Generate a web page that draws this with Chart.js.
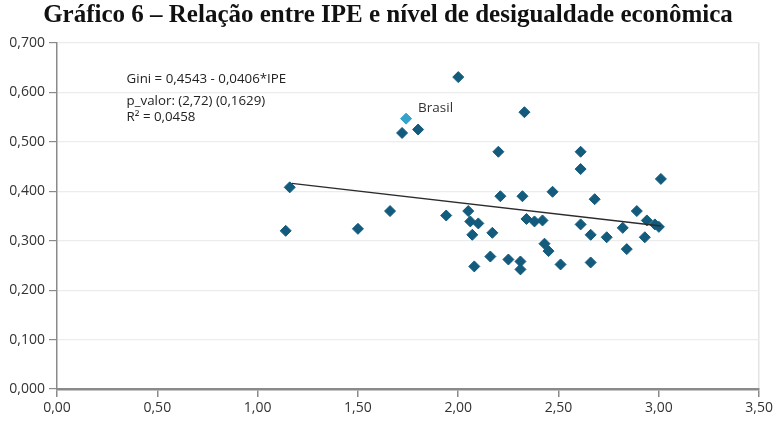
<!DOCTYPE html>
<html>
<head>
<meta charset="utf-8">
<script src="https://cdn.jsdelivr.net/npm/chart.js@4.4.0/dist/chart.umd.min.js"></script>
<style>
  html, body { margin: 0; padding: 0; background: #ffffff; }
  #wrap { width: 776px; height: 422px; position: relative; }
</style>
</head>
<body>
<div id="wrap"><canvas id="c" width="776" height="422"></canvas></div>
<script>
// ---- Data ----
const chartTitle = "Gráfico 6 – Relação entre IPE e nível de desigualdade econômica";

const ipe = [1.16, 1.14, 1.50, 1.66, 1.94, 2.05, 2.06, 2.10, 2.07, 2.08,
             2.00, 2.33, 2.20, 2.61, 2.61, 3.01, 2.21, 2.32, 2.47, 2.68,
             2.89, 2.17, 2.34, 2.38, 2.42, 2.61, 2.66, 2.74, 2.82, 2.94,
             2.98, 3.00, 2.93, 2.84, 2.43, 2.45, 2.16, 2.25, 2.31, 2.31,
             2.51, 2.66, 1.72, 1.80];
const gini = [0.408, 0.320, 0.324, 0.360, 0.351, 0.360, 0.339, 0.335, 0.312, 0.248,
              0.631, 0.560, 0.480, 0.480, 0.445, 0.425, 0.390, 0.390, 0.399, 0.384,
              0.360, 0.316, 0.344, 0.339, 0.341, 0.333, 0.312, 0.307, 0.326, 0.341,
              0.333, 0.328, 0.307, 0.283, 0.294, 0.279, 0.268, 0.262, 0.258, 0.242,
              0.252, 0.256, 0.518, 0.525];

const brasilLabel = "Brasil";
const brasilIpe = [1.74];
const brasilGini = [0.547];

const trendIpe = [1.17, 3.01];
const trendGini = [0.416, 0.330];

const eqLines = ["Gini = 0,4543 - 0,0406*IPE", "p_valor: (2,72) (0,1629)", "R² = 0,0458"];

const xTicks = [0, 0.5, 1, 1.5, 2, 2.5, 3, 3.5];
const yTicks = [0, 0.1, 0.2, 0.3, 0.4, 0.5, 0.6, 0.7];

// ---- Build ----
const toPts = (xs, ys) => xs.map((x, i) => ({ x: x, y: ys[i] }));
const fmt = (v, d) => v.toFixed(d).replace('.', ',');

const overlay = {
  id: 'overlay',
  afterDraw(chart) {
    const ctx = chart.ctx;
    const xs = chart.scales.x, ys = chart.scales.y;
    ctx.save();
    // title
    ctx.fillStyle = '#111111';
    ctx.font = 'bold 25px "Liberation Serif", serif';
    ctx.textAlign = 'center';
    ctx.textBaseline = 'middle';
    ctx.fillText(chartTitle, chart.width / 2, 16);
    // regression text
    ctx.font = '13.3px "Open Sans", sans-serif';
    ctx.fillStyle = '#222222';
    ctx.textAlign = 'left';
    const ex = xs.getPixelForValue(0.347);
    const ey = ys.getPixelForValue(0.626);
    const offs = [0, 22, 38];
    eqLines.forEach((t, i) => ctx.fillText(t, ex, ey + offs[i]));
    // Brasil label
    ctx.font = '13.5px "Open Sans", sans-serif';
    ctx.fillStyle = '#333333';
    const bx = xs.getPixelForValue(brasilIpe[0]);
    const by = ys.getPixelForValue(brasilGini[0]);
    ctx.fillText(brasilLabel, bx + 12, by - 10);
    ctx.restore();
  }
};

new Chart(document.getElementById('c'), {
  type: 'scatter',
  data: {
    datasets: [
      {
        type: 'line',
        data: toPts(trendIpe, trendGini),
        borderColor: '#2b2b2b',
        borderWidth: 1.5,
        pointRadius: 0,
        fill: false,
        order: 0
      },
      {
        data: toPts(ipe, gini),
        pointStyle: 'rectRot',
        pointRadius: 5.5,
        backgroundColor: '#135b7d',
        borderColor: '#135b7d',
        borderWidth: 1,
        order: 1
      },
      {
        data: toPts(brasilIpe, brasilGini),
        pointStyle: 'rectRot',
        pointRadius: 5.5,
        backgroundColor: '#33a3cc',
        borderColor: '#33a3cc',
        borderWidth: 1,
        order: 1
      }
    ]
  },
  options: {
    responsive: false,
    animation: false,
    layout: { padding: { top: 43, right: 16, left: 0, bottom: 0 } },
    plugins: { legend: { display: false }, tooltip: { enabled: false }, title: { display: false } },
    scales: {
      x: {
        type: 'linear',
        min: 0, max: 3.5,
        afterBuildTicks: (s) => { s.ticks = xTicks.map(v => ({ value: v })); },
        afterFit: (s) => { s.height = 33; },
        border: { color: '#8a8a8a', width: 2.5 },
        grid: {
          drawOnChartArea: true,
          color: (c) => (c.tick && c.tick.value === 3.5) ? '#e4e4e4' : 'rgba(0,0,0,0)',
          tickColor: '#8a8a8a',
          tickLength: 8,
          lineWidth: 1.5
        },
        ticks: {
          color: '#333333',
          font: { family: '"Open Sans", sans-serif', size: 14 },
          padding: 3,
          callback: (v) => fmt(v, 2)
        }
      },
      y: {
        type: 'linear',
        min: 0, max: 0.7,
        afterBuildTicks: (s) => { s.ticks = yTicks.map(v => ({ value: v })); },
        afterFit: (s) => { s.width = 57; },
        border: { color: '#8a8a8a', width: 1.5 },
        grid: {
          color: '#ececec',
          tickColor: '#8a8a8a',
          tickLength: 8,
          lineWidth: 1.2
        },
        ticks: {
          color: '#333333',
          font: { family: '"Open Sans", sans-serif', size: 14 },
          padding: 4,
          callback: (v) => fmt(v, 3)
        }
      }
    }
  },
  plugins: [overlay]
});
</script>
</body>
</html>
